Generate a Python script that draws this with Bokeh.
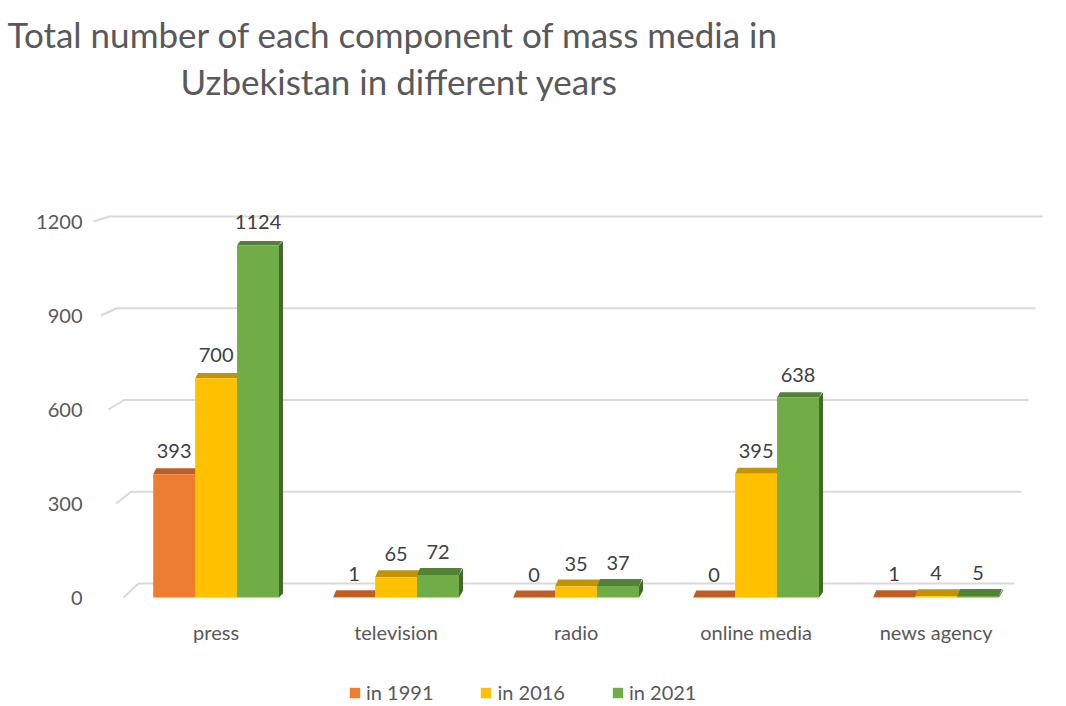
from bokeh.plotting import figure
from bokeh.models import Range1d, Title, Legend, LegendItem, FixedTicker, ColumnDataSource
from bokeh.core.properties import value
from bokeh.embed import file_html
from bokeh.resources import INLINE

categories = ["press", "television", "radio", "online media", "news agency"]
series_names = ["in 1991", "in 2016", "in 2021"]
vals_1991 = [393, 1, 0, 0, 1]
vals_2016 = [700, 65, 35, 395, 4]
vals_2021 = [1124, 72, 37, 638, 5]
y_ticks = [0, 300, 600, 900, 1200]

front_colors = ["#ED7D31", "#FFC000", "#70AD47"]
top_colors = ["#BE5E24", "#C49400", "#548235"]
side_colors = ["#A34E1A", "#9E7800", "#41692A"]

FONT = "Lato"
TXT = "#595959"

W, H = 1058, 706
# layout constants in page pixels -> data units
PX_X = 180.0          # pixels per category
PX_Y = 376.0 / 1200   # pixels per value unit
FRAME_L, FRAME_R, FRAME_T, FRAME_B = 90, 1044, 105, 706
ZERO_Y = 597
x_start = -(215.6 - FRAME_L) / PX_X
x_end = x_start + (FRAME_R - FRAME_L) / PX_X
y_start = -(FRAME_B - ZERO_Y) / PX_Y
y_end = (ZERO_Y - FRAME_T) / PX_Y


def px_to_x(px):
    return x_start + (px - FRAME_L) / PX_X


p = figure(width=W, height=H, output_backend="svg", toolbar_location=None,
           x_range=Range1d(x_start, x_end), y_range=Range1d(y_start, y_end),
           min_border_left=FRAME_L, min_border_right=W - FRAME_R,
           min_border_top=FRAME_T, min_border_bottom=0)
p.outline_line_color = None
p.background_fill_color = "white"
p.border_fill_color = "white"
p.xgrid.visible = False
p.ygrid.visible = False

# titles (first added is closest to the frame)
t2 = Title(text="Uzbekistan in different years", align="left", offset=90,
           text_font=FONT, text_font_size="35px", text_font_style="normal",
           text_color=TXT, standoff=7)
t1 = Title(text="Total number of each component of mass media in", align="left", offset=-83,
           text_font=FONT, text_font_size="35px", text_font_style="normal",
           text_color=TXT, standoff=0)
p.add_layout(t2, "above")
p.add_layout(t1, "above")

# 3D-like gridlines (back wall) derived from tick values
gx, gy = [], []
for t in y_ticks:
    frac = t / 1200
    x0 = px_to_x(123 - 30 * frac)
    x1 = px_to_x(138 - 29 * frac)
    x2 = px_to_x(1014 + 28 * frac)
    dy = (14 - 9 * frac) / PX_Y
    gx.append([x0, x1, x2])
    gy.append([t, t + dy, t + dy])
p.multi_line(gx, gy, line_color="#D9D9D9", line_width=2)

# bars
bar_w = 0.233
offsets = [-0.233, 0.0, 0.233]
depth_dx = 3 / PX_X
side_dx = 4 / PX_X
all_vals = [vals_1991, vals_2016, vals_2021]
legend_items = []
for si, (vals, off) in enumerate(zip(all_vals, offsets)):
    xc = [i + off for i in range(len(categories))]
    sx, sy, tx, ty = [], [], [], []
    for x, v in zip(xc, vals):
        xl, xr = x - bar_w / 2, x + bar_w / 2
        dy = (7 - 3 * v / 1200) / PX_Y
        sx.append([xr, xr + side_dx, xr + side_dx, xr])
        sy.append([0, dy, v + dy, v])
        tx.append([xl, xl + depth_dx, xr + depth_dx, xr])
        ty.append([v, v + dy, v + dy, v])
    p.patches(sx, sy, fill_color=side_colors[si], line_color=None)
    p.patches(tx, ty, fill_color=top_colors[si], line_color=None)
    src = ColumnDataSource(dict(x=xc, top=vals, lab=[str(v) for v in vals]))
    r = p.vbar(x="x", top="top", bottom=0, width=bar_w, source=src,
               fill_color=front_colors[si], line_color=None)
    legend_items.append(LegendItem(label=series_names[si], renderers=[r]))
    p.text(x="x", y="top", text="lab", source=src, y_offset=-23,
           text_align="center", text_baseline="middle",
           text_font=value(FONT), text_font_size="20px", text_color="#404040")

# axes
p.yaxis.ticker = FixedTicker(ticks=y_ticks)
p.yaxis.axis_line_color = None
p.yaxis.major_tick_line_color = None
p.yaxis.minor_tick_line_color = None
p.yaxis.major_label_standoff = 2
p.yaxis.major_label_text_font = FONT
p.yaxis.major_label_text_font_size = "20px"
p.yaxis.major_label_text_color = TXT

p.xaxis.fixed_location = 0
p.xaxis.ticker = FixedTicker(ticks=list(range(len(categories))))
p.xaxis.major_label_overrides = {i: c for i, c in enumerate(categories)}
p.xaxis.axis_line_color = None
p.xaxis.major_tick_line_color = None
p.xaxis.minor_tick_line_color = None
p.xaxis.major_label_standoff = 16
p.xaxis.major_label_text_font = FONT
p.xaxis.major_label_text_font_size = "20px"
p.xaxis.major_label_text_color = TXT

legend = Legend(items=legend_items, orientation="horizontal", location=(258, 2),
                glyph_width=13, glyph_height=13, label_standoff=5, spacing=46,
                padding=0, margin=0, border_line_color=None, background_fill_alpha=0,
                label_text_font=FONT, label_text_font_size="20px", label_text_color=TXT,
                label_height=20)
p.add_layout(legend, "center")

open("out.html", "w").write(file_html(p, INLINE))
